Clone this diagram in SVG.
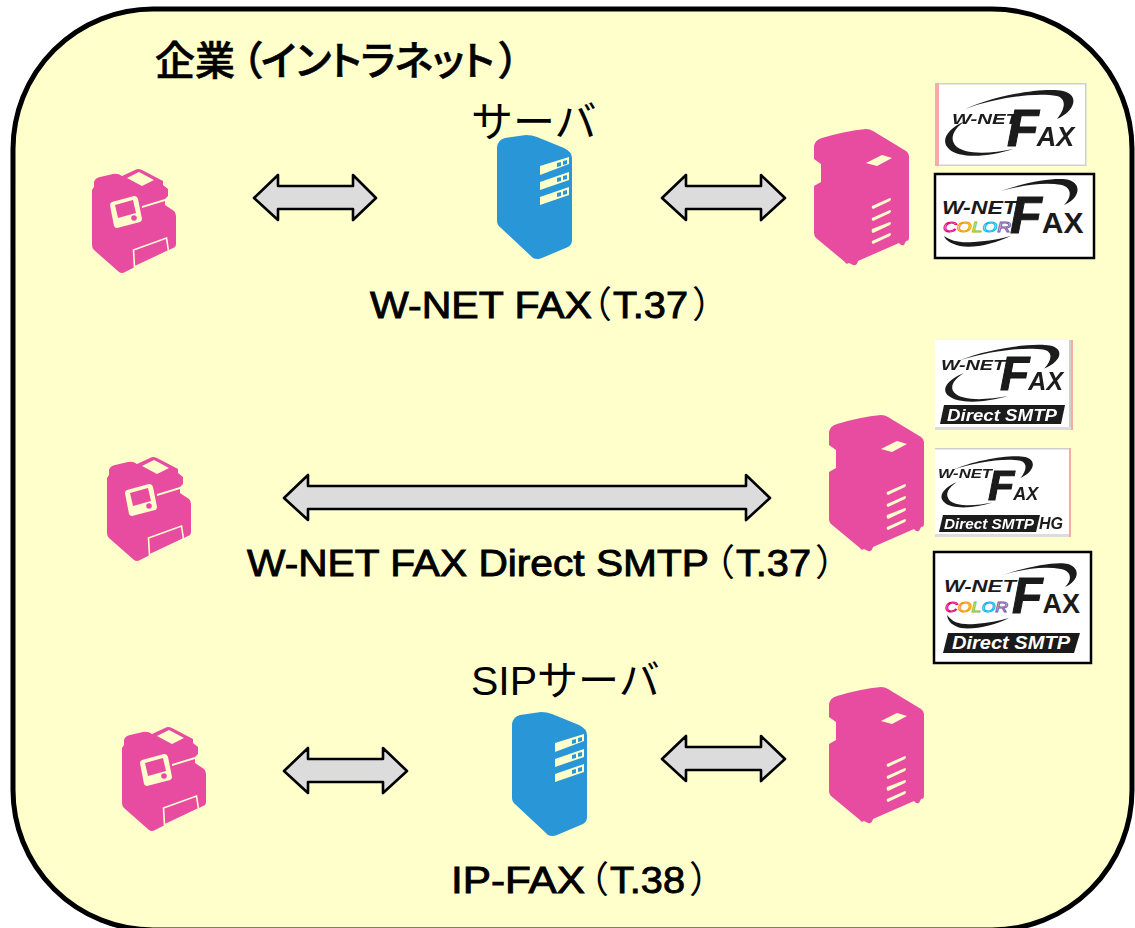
<svg xmlns="http://www.w3.org/2000/svg" width="1135" height="928" viewBox="0 0 1135 928">
<style>
.lbl{font-family:"Liberation Sans","Noto Sans CJK JP",sans-serif;font-size:37px;font-weight:400;fill:#000;stroke:#000;stroke-width:.9}
.cjk{font-family:"Noto Sans CJK JP",sans-serif;font-weight:400;stroke:none}
.ttl{font-family:"Noto Sans CJK JP",sans-serif;font-size:40px;font-weight:500;fill:#000;stroke:#000;stroke-width:.6;font-feature-settings:"palt"}
.kana{font-family:"Liberation Sans","Noto Sans CJK JP",sans-serif;font-size:42px;font-weight:400;fill:#000}
.arrow{fill:#dcdcdc;stroke:#000;stroke-width:2.6;stroke-linejoin:round}
.mfp{fill:#e84ca0}
.srv{fill:#2996d8}
.hole{fill:#ffffcc}
.line{fill:none;stroke:#ffffcc;stroke-width:1.6}
.lg{font-family:"Liberation Sans",Arial,sans-serif;font-weight:700;font-style:italic;fill:#1a1a1a}
.bar{font-family:"Liberation Sans",Arial,sans-serif;font-weight:700;font-style:italic;fill:#fff}
.col{font-family:"Liberation Sans",Arial,sans-serif;font-style:italic;font-weight:400;fill:none;stroke-width:.9}
.fr{fill:#fff;stroke:#000;stroke-width:2.5}
.soft{fill:#fff;stroke:#cfcfcf;stroke-width:1.5}
.big{stroke:#1a1a1a;stroke-width:1}
</style>
<defs>
<filter id="soft" x="-5%" y="-5%" width="110%" height="110%"><feGaussianBlur stdDeviation="0.55"/></filter>
<g id="mfp-small">
<path class="mfp" d="M94 182Q95 178 100 177L113 174Q118 173 122 176L135 170Q138 168 142 170L163 181L163 185L168 189V196L165 199V205L174 211Q176 213 176 216V244Q176 247 173 248L125 272Q122 274 119 272L94 250Q92 248 92 245V190L94 187Z"/>
<path class="hole" d="M127 178L139 172L154 180L142 186Z"/>
<path class="hole" d="M112 202L134 196Q137 196 138 199L142 219Q142 221 140 222L117 228Q115 228 114 226L110 205Q110 203 112 202Z"/>
<path class="mfp" d="M115 205L133 200L136 213L118 218Z"/>
<circle cx="134" cy="218" r="2.8" class="mfp"/>
<path class="hole" d="M142 206L165 199V201L142 208Z"/>
<path class="line" d="M133.500 250L166.500 238L168.500 251L134.500 267Z"/>
</g>
<g id="mfp-large">
<path class="mfp" d="M814 146Q815 140 822 138Q845 131 866 129Q870 129 873 131L906 151Q909 153 909 156V238Q909 241 906 241L904 245Q901 246 899 243L858 261Q857 266 853 265L849 263Q846 265 845 262L816 238Q814 236 814 233V186L821 182V164L814 159Z"/>
<path class="hole" d="M866 163L882 155L892 158L877 166Z"/>
<path class="hole" d="M872 206L890 198Q892 199 890 201L873 209Q871 208 872 206ZM872 218L890 210Q892 211 890 213L873 221Q871 220 872 218ZM872 229L890 222Q892 223 890 225L873 233Q871 232 872 229ZM872 241L890 233Q892 234 890 236L873 244Q871 243 872 241Z"/>
</g>
<g id="server">
<path class="srv" d="M497 147Q498 140 505 138L526 135Q532 135 537 137L564 148Q572 152 572 158V240Q572 245 568 247L542 258Q537 260 533 258L501 228Q497 225 497 221Z"/>
<path class="hole" d="M540 166L569 157V164L540 175ZM540 182L569 172V180L540 190ZM540 197L569 187V195L540 205Z"/>
<path class="srv" d="M557 163L561 162V166L557 167ZM563 161L567 160V164L563 165ZM557 178L561 177V181L557 182ZM563 176L567 175V179L563 180ZM557 193L561 192V196L557 197ZM563 191L567 190V194L563 195Z"/>
</g>
<path id="sw-top" d="M30 26C60 12 110 4 128 8C145 12 140 28 122 36C130 26 132 16 122 13C100 9 60 15 30 26Z"/>
<path id="sw-low" d="M30 38C12 46 5 58 14 66C24 76 55 74 78 66C55 71 28 72 20 62C14 54 20 45 30 38Z"/>
</defs>
<rect width="1135" height="928" fill="#fff"/>
<rect id="frame" x="13" y="9" width="1119" height="921" rx="140" ry="140" fill="#ffffcc" stroke="#000" stroke-width="5"/>
<text id="title" class="ttl" y="75"><tspan x="155">企業</tspan><tspan x="242">（</tspan><tspan x="261" letter-spacing="-0.600">イントラネット</tspan><tspan x="499">）</tspan></text>

<g id="connectors">
<path class="arrow" d="M254 198L278 175V186H353V175L376 198L353 220V209H278V220Z"/>
<path class="arrow" d="M662 198L686 175V186H761V175L785 198L761 220V209H686V220Z"/>
<path class="arrow" d="M284 498L308 475V486H746V475L770 498L746 520V509H308V520Z"/>
<path class="arrow" d="M284 771L308 748V759H383V748L407 771L383 793V782H308V793Z"/>
<path class="arrow" d="M662 759L686 736V747H761V736L785 759L761 781V770H686V781Z"/>
</g>

<g id="node-mfp-1"><use href="#mfp-small"/></g>
<g id="node-mfp-2"><use href="#mfp-small" x="15" y="288"/></g>
<g id="node-mfp-3"><use href="#mfp-small" x="30" y="558"/></g>
<g id="node-server-1"><use href="#server"/><text class="kana" x="471" y="137">サーバ</text></g>
<g id="node-server-2"><use href="#server" x="15" y="577"/><text class="kana" x="471" y="695" style="font-size:41px">SIPサーバ</text></g>
<g id="node-printer-1"><use href="#mfp-large"/></g>
<g id="node-printer-2"><use href="#mfp-large" x="15" y="286"/></g>
<g id="node-printer-3"><use href="#mfp-large" x="15" y="558"/></g>

<text id="label-t37" class="lbl" y="318"><tspan x="370" textLength="222" lengthAdjust="spacingAndGlyphs">W-NET FAX</tspan><tspan class="cjk" x="575">（</tspan><tspan x="613" textLength="75" lengthAdjust="spacingAndGlyphs">T.37</tspan><tspan class="cjk" x="692">）</tspan></text>
<text id="label-smtp" class="lbl" y="576"><tspan x="247" textLength="462" lengthAdjust="spacingAndGlyphs">W-NET FAX Direct SMTP</tspan><tspan class="cjk" x="698">（</tspan><tspan x="736" textLength="75" lengthAdjust="spacingAndGlyphs">T.37</tspan><tspan class="cjk" x="815">）</tspan></text>
<text id="label-t38" class="lbl" y="893"><tspan x="451" textLength="134" lengthAdjust="spacingAndGlyphs">IP-FAX</tspan><tspan class="cjk" x="572">（</tspan><tspan x="610" textLength="75" lengthAdjust="spacingAndGlyphs">T.38</tspan><tspan class="cjk" x="689">）</tspan></text>

<g id="logo-1" transform="translate(935 83)">
<rect class="soft" x="0.75" y="0.75" width="150" height="81.5"/>
<rect x="0" y="0" width="4" height="83" fill="#f6aca6"/>
<g filter="url(#soft)">
<use href="#sw-top" fill="#1a1a1a"/><use href="#sw-low" fill="#1a1a1a"/>
<text class="lg" x="17" y="41" font-size="15" textLength="66" lengthAdjust="spacingAndGlyphs">W-NET</text>
<text class="lg" x="72" y="63" font-size="52"><tspan class="big">F</tspan><tspan font-size="27" dx="-2">AX</tspan></text>
</g></g>

<g id="logo-2" transform="translate(934 173)">
<rect class="fr" x="1" y="1" width="159" height="84"/>
<path fill="#1a1a1a" d="M67 18C95 8 125 4 135 7C148 11 146 25 130 32C138 24 138 15 128 12C110 9 90 12 67 18Z"/>
<path fill="#1a1a1a" d="M10 63C18 68 24 70 40 69C55 68 66 66 77 63C62 70 40 76 26 73C18 71 12 68 10 63Z"/>
<text class="lg" x="8" y="41" font-size="18" textLength="75" lengthAdjust="spacingAndGlyphs">W-NET</text>
<text class="col" x="9" y="59" font-size="15" textLength="68" lengthAdjust="spacingAndGlyphs"><tspan stroke="#e6007e">C</tspan><tspan stroke="#f39800">O</tspan><tspan stroke="#8fc31f">L</tspan><tspan stroke="#00b7ee">O</tspan><tspan stroke="#7a5aa8">R</tspan></text>
<text class="lg" x="76" y="60" font-size="52"><tspan class="big">F</tspan><tspan font-size="30" font-style="normal" dx="0">AX</tspan></text>
</g>

<g id="logo-3" transform="translate(935 340)">
<rect class="soft" x="0" y="0" width="137" height="90" style="stroke:none"/>
<rect x="136" y="0" width="2" height="90" fill="#f6aca6"/>
<rect x="0" y="87" width="136" height="3" fill="#dcdcdc"/>
<rect x="134" y="0" width="2" height="87" fill="#cfcfcf"/>
<g filter="url(#soft)">
<use href="#sw-top" fill="#1a1a1a" transform="translate(-3 -1) scale(.92 .82)"/><use href="#sw-low" fill="#1a1a1a" transform="translate(1 2) scale(.92 .82)"/>
<text class="lg" x="6" y="30" font-size="15" textLength="64" lengthAdjust="spacingAndGlyphs">W-NET</text>
<text class="lg" x="65" y="50" font-size="48"><tspan class="big">F</tspan><tspan font-size="25" dx="-1">AX</tspan></text>
<path fill="#1a1a1a" d="M9 65H130L126 84H5Z"/>
<text class="bar" x="12" y="81" font-size="16" textLength="110" lengthAdjust="spacingAndGlyphs">Direct SMTP</text>
</g></g>

<g id="logo-4" transform="translate(935 448)">
<rect x="0" y="0" width="135" height="89" fill="#fff"/>
<rect x="134" y="0" width="2" height="89" fill="#f6aca6"/>
<rect x="0" y="86" width="134" height="3" fill="#dcdcdc"/>
<rect x="0" y="0" width="134" height="1.500" fill="#cfcfcf"/>
<g filter="url(#soft)">
<use href="#sw-top" fill="#1a1a1a" transform="translate(-6 3) scale(.75 .75)"/><use href="#sw-low" fill="#1a1a1a" transform="translate(-1 7) scale(.75 .72)"/>
<text class="lg" x="3" y="30" font-size="13" textLength="54" lengthAdjust="spacingAndGlyphs">W-NET</text>
<text class="lg" x="53" y="52" font-size="43"><tspan class="big">F</tspan><tspan font-size="18" dx="-1">AX</tspan></text>
<path fill="#1a1a1a" d="M8 67H105L101 84H4Z"/>
<text class="bar" x="9" y="81" font-size="14" textLength="90" lengthAdjust="spacingAndGlyphs">Direct SMTP</text>
<text class="lg" x="104" y="81" font-size="16" textLength="24" lengthAdjust="spacingAndGlyphs">HG</text>
</g></g>

<g id="logo-5" transform="translate(933 551)">
<rect class="fr" x="1" y="1" width="157" height="111"/>
<path fill="#1a1a1a" d="M70 24C95 15 125 10 135 13C148 17 146 30 132 36C140 28 138 20 128 18C110 15 90 18 70 24Z"/>
<path fill="#1a1a1a" d="M14 64C20 72 28 74 42 73C55 72 66 70 76 67C62 74 42 79 28 77C20 75 15 71 14 64Z"/>
<text class="lg" x="11" y="41" font-size="17" textLength="72" lengthAdjust="spacingAndGlyphs">W-NET</text>
<text class="col" x="12" y="61" font-size="14" textLength="63" lengthAdjust="spacingAndGlyphs"><tspan stroke="#e6007e">C</tspan><tspan stroke="#f39800">O</tspan><tspan stroke="#8fc31f">L</tspan><tspan stroke="#00b7ee">O</tspan><tspan stroke="#7a5aa8">R</tspan></text>
<text class="lg" x="79" y="62" font-size="50"><tspan class="big">F</tspan><tspan font-size="27" font-style="normal" dx="0">AX</tspan></text>
<path fill="#1a1a1a" d="M15 82H147L141 102H10Z"/>
<text class="bar" x="19" y="98" font-size="19" textLength="118" lengthAdjust="spacingAndGlyphs">Direct SMTP</text>
</g>
</svg>
